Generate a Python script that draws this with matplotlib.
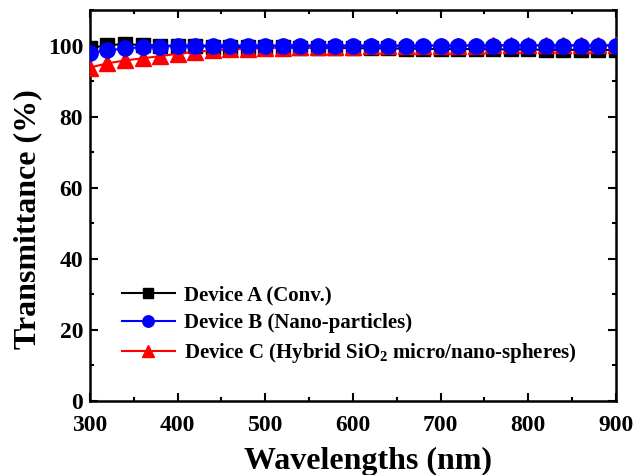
import matplotlib
matplotlib.use("Agg")
import matplotlib.pyplot as plt
from matplotlib.ticker import MultipleLocator

wavelength = list(range(300, 901, 20))
device_a = [99.2, 100.2, 100.3, 100.2, 100.0, 99.9, 99.8, 99.7, 99.6, 99.6, 99.5,
            99.5, 99.4, 99.4, 99.3, 99.3, 99.2, 99.2, 99.1, 99.1, 99.0, 99.0,
            99.0, 98.9, 98.9, 98.9, 98.8, 98.8, 98.8, 98.8, 98.7]
device_b = [98.0, 98.6, 99.2, 99.5, 99.7, 99.9, 100.0, 100.0, 100.0, 100.0, 100.0,
            100.0, 100.0, 100.0, 100.0, 100.0, 100.0, 100.0, 100.0, 100.0, 100.0, 100.0,
            100.0, 100.0, 100.0, 100.0, 100.0, 100.0, 100.0, 100.0, 100.0]
device_c = [93.8, 95.0, 95.8, 96.4, 97.0, 97.7, 98.2, 98.6, 98.9, 99.1, 99.3,
            99.4, 99.5, 99.6, 99.7, 99.7, 99.8, 99.8, 99.9, 99.9, 100.0, 100.0,
            100.0, 100.1, 100.1, 100.1, 100.1, 100.1, 100.1, 100.1, 100.1]
labels = ["Device A (Conv.)", "Device B (Nano-particles)",
          "Device C (Hybrid SiO$_2$ micro/nano-spheres)"]

plt.rcParams['font.family'] = ['Liberation Serif', 'DejaVu Serif']
plt.rcParams['font.weight'] = 'bold'
plt.rcParams['mathtext.fontset'] = 'custom'
plt.rcParams['mathtext.rm'] = 'Liberation Serif:bold'
plt.rcParams['mathtext.it'] = 'Liberation Serif:bold'
plt.rcParams['mathtext.bf'] = 'Liberation Serif:bold'
plt.rcParams['mathtext.default'] = 'rm'

fig = plt.figure(figsize=(6.38, 4.75), dpi=100)
ax = fig.add_axes([0.141, 0.156, 0.8245, 0.823])

ax.plot(wavelength, device_a, color='black', lw=1.5, marker='s', ms=9.5, label=labels[0], zorder=3)
ax.plot(wavelength, device_c, color='red', lw=1.5, marker='^', ms=11, label=labels[2], zorder=4)
ax.plot(wavelength, device_b, color='blue', lw=1.5, marker='o', ms=11, label=labels[1], zorder=5)

ax.set_xlim(300, 900)
ax.set_ylim(0, 110)
ax.xaxis.set_major_locator(MultipleLocator(100))
ax.xaxis.set_minor_locator(MultipleLocator(50))
ax.yaxis.set_major_locator(MultipleLocator(20))
ax.yaxis.set_minor_locator(MultipleLocator(10))
ax.tick_params(which='both', direction='in', top=True, right=True, width=1.5)
ax.tick_params(which='major', length=6, labelsize=17)
ax.tick_params(axis='x', which='major', pad=10)
ax.tick_params(axis='y', which='major', pad=5)
ax.tick_params(which='minor', length=3)
for s in ax.spines.values():
    s.set_linewidth(1.8)
for t in ax.get_xticklabels() + ax.get_yticklabels():
    t.set_fontweight('bold')

ax.set_xlabel("Wavelengths (nm)", fontsize=23, fontweight='bold', labelpad=8)
ax.set_ylabel("Transmittance (%)", fontsize=23, fontweight='bold', labelpad=4)
ax.xaxis.label.set_x(0.5295)
ax.yaxis.label.set_y(0.4655)

h, l = ax.get_legend_handles_labels()
h = [h[0], h[2], h[1]]
l = [l[0], l[2], l[1]]
ax.legend(h, l, loc='lower left', bbox_to_anchor=(0.06, 0.092), frameon=False,
          prop={'family': 'Liberation Serif', 'weight': 'bold', 'size': 15},
          handlelength=2.55, handletextpad=0.45, labelspacing=0.38,
          borderpad=0, borderaxespad=0, markerscale=0.75)

fig.savefig("out.png", dpi=100)
